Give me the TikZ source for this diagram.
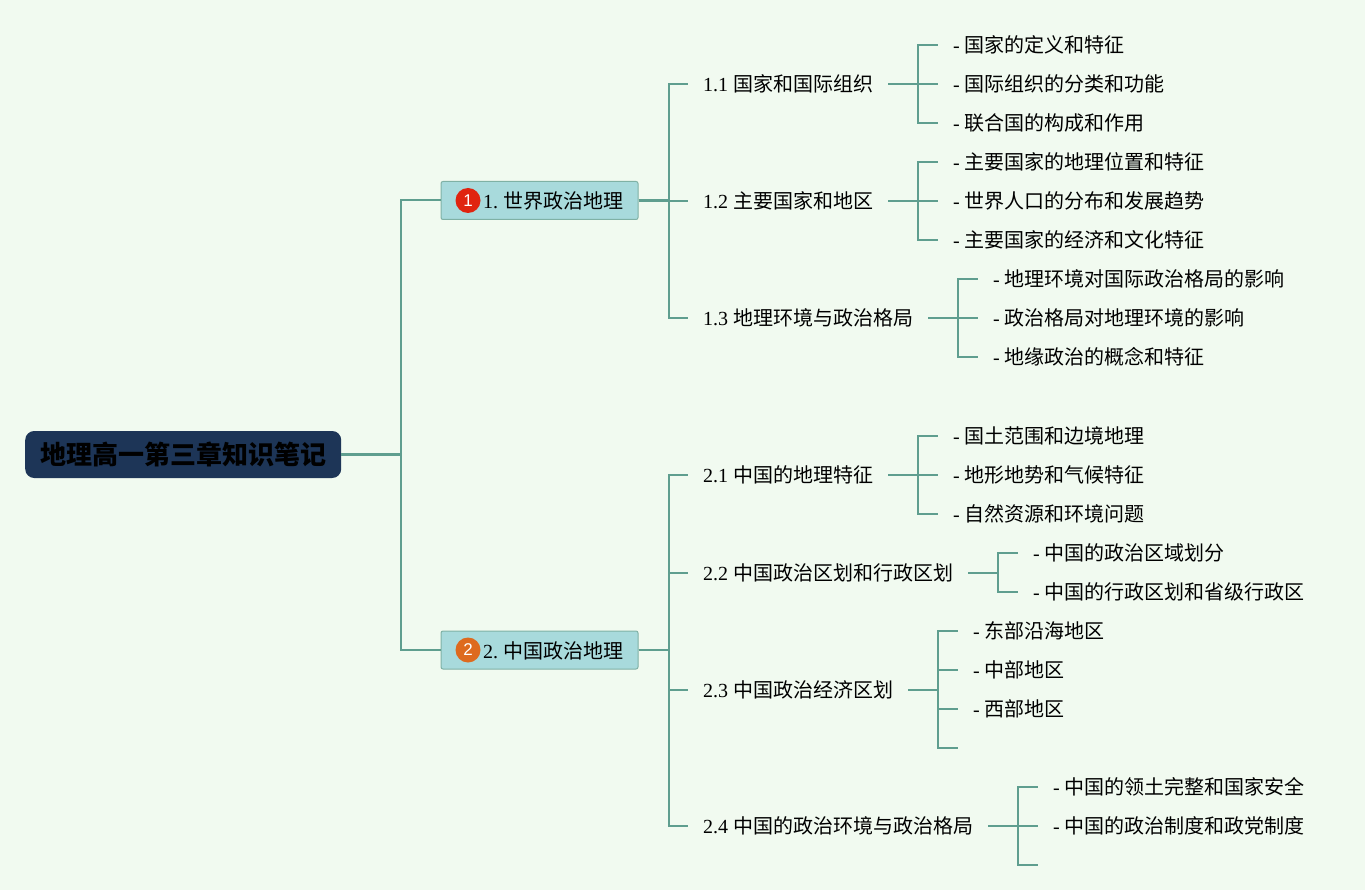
\documentclass[tikz,border=0pt]{standalone}
\usepackage{fontspec}
\setmainfont{Liberation Serif}
\setsansfont{Liberation Sans}
\newfontfamily\cjk{Noto Sans CJK SC}
\usepackage{tikz}
\definecolor{paper}{HTML}{F1FAF0}
\definecolor{linkcol}{HTML}{5F9E8F}
\definecolor{catfill}{HTML}{A8DADC}
\definecolor{rootfill}{HTML}{1D3557}
\definecolor{markred}{HTML}{E0240F}
\definecolor{markorange}{HTML}{DE6A1E}
\frenchspacing
\tikzset{x=1pt, y=-1pt,
  link/.style={draw=linkcol, line width=2pt},
  stub/.style={draw=linkcol, line width=2.6pt},
  root topic/.style={draw=none, fill=rootfill, rounded corners=9pt, right,
     minimum width=316pt, minimum height=47pt, inner sep=0pt,
     font=\fontsize{26}{30}\selectfont\cjk\bfseries},
  cat topic/.style={draw=linkcol!80, fill=catfill, rounded corners=2pt, right,
     line width=1pt, inner xsep=15pt, inner ysep=0pt, minimum height=38pt,
     text height=18pt, text depth=2pt, font=\fontsize{20}{24}\selectfont},
  sub topic/.style={right, inner xsep=15pt, inner ysep=0pt,
     text height=18pt, text depth=3pt, font=\fontsize{20}{24}\selectfont},
  marker/.style={circle, minimum size=25pt, inner sep=0pt, text=white,
     font=\fontsize{17}{20}\selectfont\sffamily}
}
% #1 name, #2 x, #3 y, #4 text, #5 parent
\def\Topic#1#2#3#4#5{%
\node[sub topic] (#1) at (#2,#3) {#4};
\draw[stub] (#5.east) -- ++(30,0);
\draw[link] (#5.east) ++(30,0) |- (#1.west);
}
\def\Leaf#1#2#3#4#5{\Topic{#1}{#2}{#3}{- {\cjk #4}}{#5}}
% empty branch end
\def\Open#1#2#3#4{%
\coordinate (#1) at (#2,#3);
\draw[link] (#4.east) ++(30,0) |- (#1);
}

\begin{document}
\begin{tikzpicture}
\useasboundingbox[fill=paper] (0,0) rectangle (1365,890);

\node[root topic] (root) at (25,454.5) {\raisebox{-1.5pt}{地理高一第三章知识笔记}};
\node[cat topic] (cat1) at (440.5,200.5) {\hspace*{27pt}1. {\cjk 世界政治地理}};
\node[cat topic] (cat2) at (440.5,650) {\hspace*{27pt}2. {\cjk 中国政治地理}};
\node[marker, fill=markred] (mark1) at (468,200.5) {1};
\node[marker, fill=markorange] (mark2) at (468,650) {2};
\draw[stub] (root.east) -- ++(60,0);
\draw[link] (root.east) ++(60,0) |- (cat1.west);
\draw[link] (root.east) ++(60,0) |- (cat2.west);

\Topic{t11}{688}{84}{1.1 {\cjk 国家和国际组织}}{cat1}
\Topic{t12}{688}{201}{1.2 {\cjk 主要国家和地区}}{cat1}
\Topic{t13}{688}{318}{1.3 {\cjk 地理环境与政治格局}}{cat1}
\Topic{t21}{688}{475}{2.1 {\cjk 中国的地理特征}}{cat2}
\Topic{t22}{688}{573}{2.2 {\cjk 中国政治区划和行政区划}}{cat2}
\Topic{t23}{688}{690}{2.3 {\cjk 中国政治经济区划}}{cat2}
\Topic{t24}{688}{826}{2.4 {\cjk 中国的政治环境与政治格局}}{cat2}

\Leaf{l111}{938}{45}{国家的定义和特征}{t11}
\Leaf{l112}{938}{84}{国际组织的分类和功能}{t11}
\Leaf{l113}{938}{123}{联合国的构成和作用}{t11}
\Leaf{l121}{938}{162}{主要国家的地理位置和特征}{t12}
\Leaf{l122}{938}{201}{世界人口的分布和发展趋势}{t12}
\Leaf{l123}{938}{240}{主要国家的经济和文化特征}{t12}
\Leaf{l131}{978}{279}{地理环境对国际政治格局的影响}{t13}
\Leaf{l132}{978}{318}{政治格局对地理环境的影响}{t13}
\Leaf{l133}{978}{357}{地缘政治的概念和特征}{t13}
\Leaf{l211}{938}{436}{国土范围和边境地理}{t21}
\Leaf{l212}{938}{475}{地形地势和气候特征}{t21}
\Leaf{l213}{938}{514}{自然资源和环境问题}{t21}
\Leaf{l221}{1018}{553}{中国的政治区域划分}{t22}
\Leaf{l222}{1018}{592}{中国的行政区划和省级行政区}{t22}
\Leaf{l231}{958}{631}{东部沿海地区}{t23}
\Leaf{l232}{958}{670}{中部地区}{t23}
\Leaf{l233}{958}{709}{西部地区}{t23}
\Open{l234}{958}{748}{t23}
\Leaf{l241}{1038}{787}{中国的领土完整和国家安全}{t24}
\Leaf{l242}{1038}{826}{中国的政治制度和政党制度}{t24}
\Open{l243}{1038}{865}{t24}
\end{tikzpicture}
\end{document}
